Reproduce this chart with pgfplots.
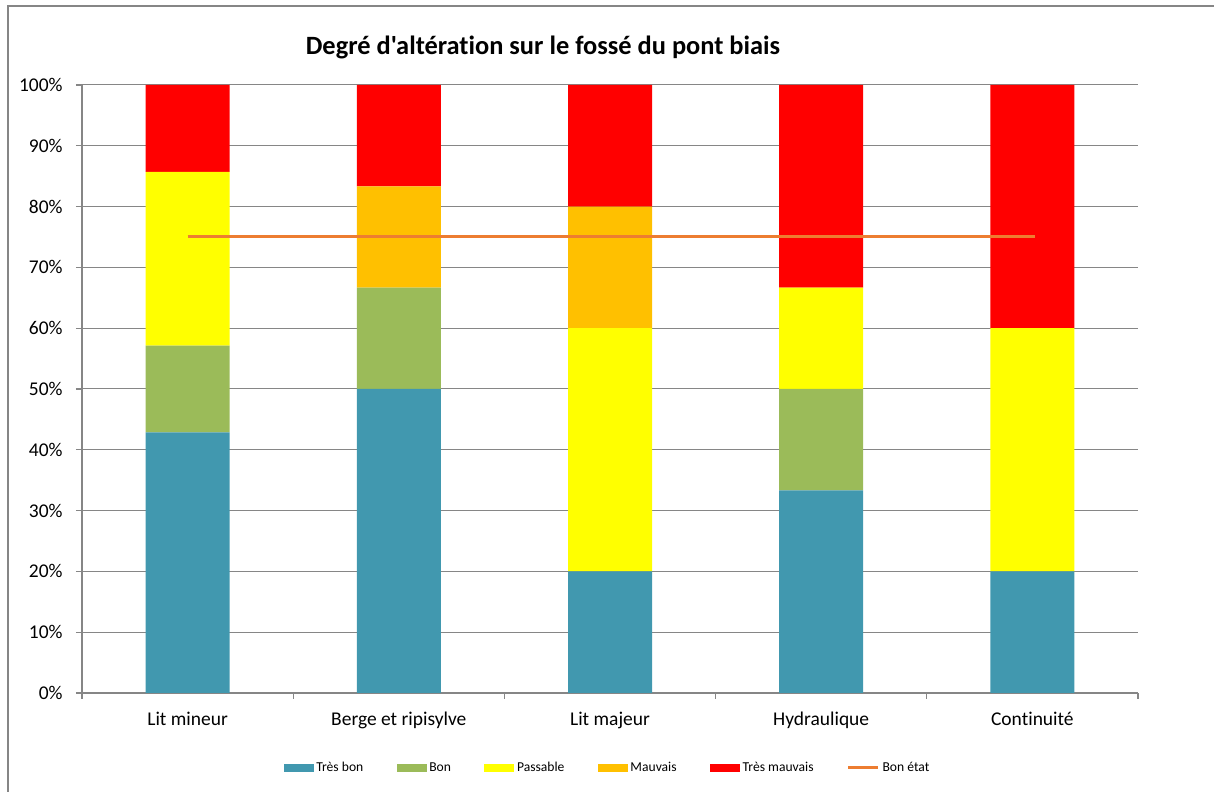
\documentclass[border=0pt]{standalone}
\usepackage{pgfplots}
\pgfplotsset{compat=1.18}
\usepackage{fontspec}
\setmainfont{Carlito}[Ligatures=NoCommon]
\newfontfamily\titlefont{Carlito}[Ligatures={NoCommon,TeXOff}]

\definecolor{tresbon}{RGB}{65,152,175}
\definecolor{bon}{RGB}{155,187,89}
\definecolor{passable}{RGB}{255,255,0}
\definecolor{mauvais}{RGB}{255,192,0}
\definecolor{tresmauvais}{RGB}{255,0,0}
\definecolor{bonetat}{RGB}{237,125,49}
\definecolor{axisgray}{RGB}{134,134,134}

\pgfplotsset{
  swatch/.style={legend image code/.code={\fill[##1] (0pt,-3pt) rectangle (22.5pt,3pt);}},
  lineswatch/.style={legend image code/.code={\draw[##1] (0pt,0pt) -- (22.5pt,0pt);}},
  base/.style={
    scale only axis, width=792pt, height=456pt,
    at={(61.5pt,74.25pt)}, anchor=south west,
    xmin=-0.5, xmax=4.5, ymin=0, ymax=100,
  },
}

\begin{document}
\begin{tikzpicture}
\path[use as bounding box] (0,0) rectangle (910.5pt,594pt);
% cadre du graphique
\draw[axisgray, line width=1.5pt] (6pt,0pt) -- (6pt,589.5pt) -- (910.5pt,589.5pt);
\node[font=\titlefont\fontsize{19.8}{23}\selectfont\bfseries] at (407.25pt,558.75pt) {Degré d'altération sur le fossé du pont biais};

\begin{axis}[base,
    ybar stacked, bar width=63pt,
    axis x line*=bottom, axis y line*=left,
    axis line style={axisgray, line width=1pt},
    ymajorgrids, grid style={axisgray, line width=0.75pt},
    ytick={0,10,...,100},
    yticklabel={\pgfmathprintnumber{\tick}\%},
    xtick={0,...,4},
    xticklabels={Lit mineur, Berge et ripisylve, Lit majeur, Hydraulique, Continuité},
    minor xtick={-0.5,0.5,...,4.5},
    tick align=outside,
    major tick length=4.5pt, minor tick length=4.5pt,
    major x tick style={draw=none},
    minor x tick style={axisgray, line width=1pt},
    ytick style={axisgray, line width=1pt},
    /pgf/number format/assume math mode=true,
    ticklabel style={font=\fontsize{14.6}{17}\selectfont},
    yticklabel style={xshift=-6.5pt},
    xticklabel style={yshift=-6pt},
    legend style={at={(0.498,-0.123)}, anchor=center, draw=none,
      legend columns=6, font=\fontsize{10.2}{12}\selectfont,
      /tikz/every even column/.append style={column sep=23pt},
      nodes={inner sep=2pt}},
]
\addplot[swatch, fill=tresbon, draw=none] coordinates {(0,42.86) (1,50) (2,20) (3,33.33) (4,20)};
\addlegendentry{Très bon}
\addplot[swatch, fill=bon, draw=none] coordinates {(0,14.29) (1,16.67) (2,0) (3,16.67) (4,0)};
\addlegendentry{Bon}
\addplot[swatch, fill=passable, draw=none] coordinates {(0,28.57) (1,0) (2,40) (3,16.67) (4,40)};
\addlegendentry{Passable}
\addplot[swatch, fill=mauvais, draw=none] coordinates {(0,0) (1,16.67) (2,20) (3,0) (4,0)};
\addlegendentry{Mauvais}
\addplot[swatch, fill=tresmauvais, draw=none] coordinates {(0,14.29) (1,16.67) (2,20) (3,33.33) (4,40)};
\addlegendentry{Très mauvais}
\addlegendimage{lineswatch, bonetat, line width=2.25pt}
\addlegendentry{Bon état}
\end{axis}

\begin{axis}[base, hide axis]
\addplot[bonetat, line width=2.25pt, no marks] coordinates {(0,75) (4.01,75)};
\end{axis}
\end{tikzpicture}
\end{document}
